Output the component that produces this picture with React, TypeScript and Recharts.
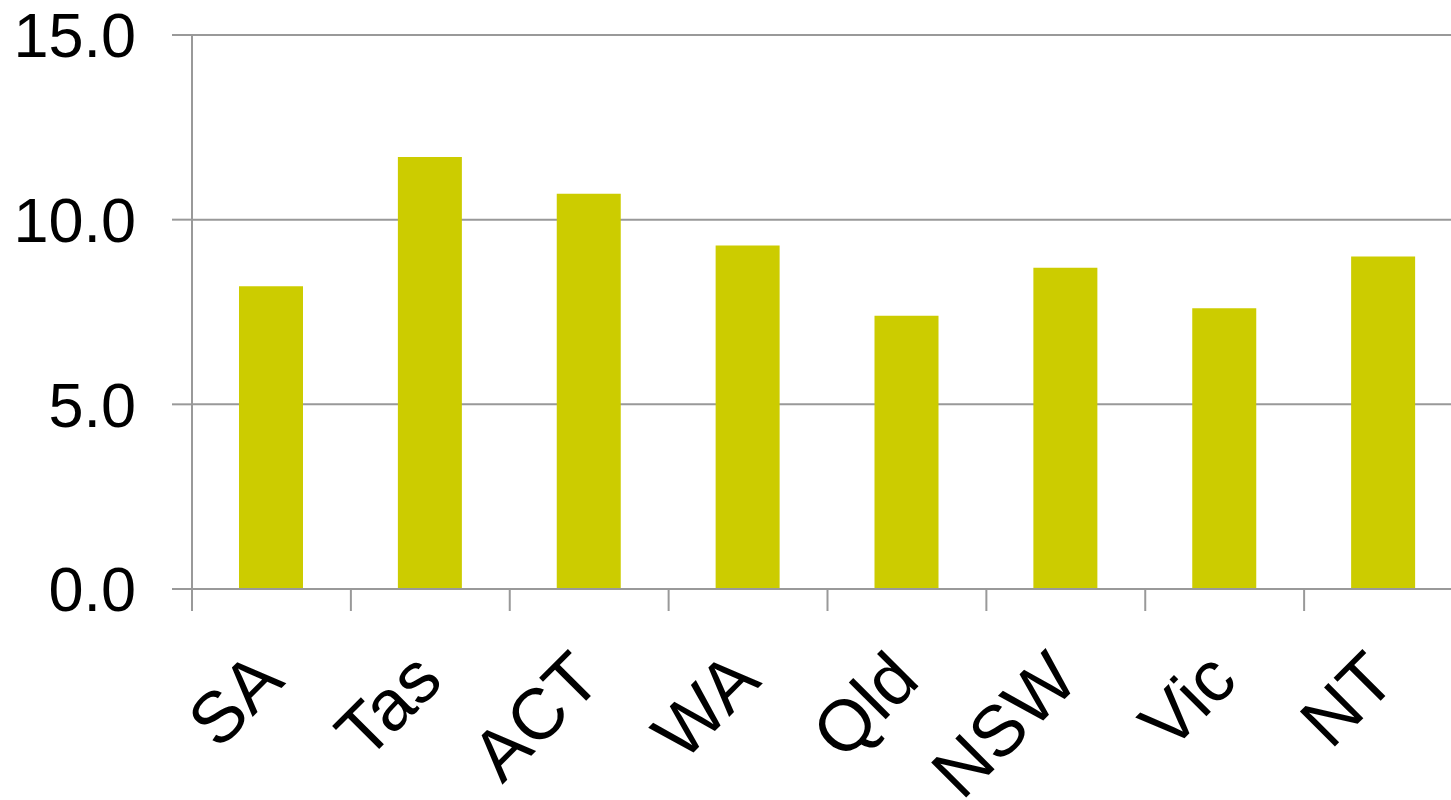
import React from 'react';
import { BarChart, Bar, XAxis, YAxis, CartesianGrid } from 'recharts';

const states = ['SA', 'Tas', 'ACT', 'WA', 'Qld', 'NSW', 'Vic', 'NT'];
const values = [8.2, 11.7, 10.7, 9.3, 7.4, 8.7, 7.6, 9.0];
const yTicks = [0, 5, 10, 15];

const data = states.map((name, i) => ({ name, value: values[i] }));

const AXIS_GREY = '#999999';
const BAR_COLOR = '#CCCC00';
const FONT = '"Liberation Sans", Arial, sans-serif';

const PLOT_LEFT = 192;
const PLOT_RIGHT = 1463;
const HALF_BAND = (PLOT_RIGHT - PLOT_LEFT) / states.length / 2;

function StateTick(props: any) {
  const { x, y, payload } = props;
  const edge = x - HALF_BAND;
  const tx = x + 15;
  const ty = y + 94;
  return (
    <g>
      <line x1={edge} y1={y} x2={edge} y2={y + 22} stroke={AXIS_GREY} strokeWidth={2} />
      <text
        x={tx}
        y={ty}
        transform={`rotate(-45, ${tx}, ${ty})`}
        textAnchor="end"
        fill="#000"
        fontSize={72}
        fontFamily={FONT}
      >
        {payload.value}
      </text>
    </g>
  );
}

export default function App() {
  return (
    <div
      style={{
        position: 'absolute',
        left: 0,
        top: 0,
        width: 1451,
        height: 800,
        overflow: 'hidden',
        background: '#fff',
      }}
    >
      <BarChart
        width={PLOT_RIGHT}
        height={800}
        data={data}
        margin={{ top: 35, right: 0, left: 0, bottom: 0 }}
      >
        <CartesianGrid vertical={false} stroke={AXIS_GREY} strokeWidth={2} />
        <XAxis
          dataKey="name"
          height={211}
          interval={0}
          tickLine={false}
          tickSize={0}
          tickMargin={0}
          axisLine={{ stroke: AXIS_GREY, strokeWidth: 2 }}
          tick={<StateTick />}
        />
        <YAxis
          width={PLOT_LEFT}
          domain={[0, 15]}
          ticks={yTicks}
          interval={0}
          tickFormatter={(v: number) => v.toFixed(1)}
          tickSize={20}
          tickMargin={36}
          tickLine={{ stroke: AXIS_GREY, strokeWidth: 2 }}
          axisLine={{ stroke: AXIS_GREY, strokeWidth: 2 }}
          tick={{ fill: '#000', fontSize: 63, fontFamily: FONT }}
        />
        <Bar dataKey="value" fill={BAR_COLOR} barSize={64} isAnimationActive={false} />
      </BarChart>
    </div>
  );
}
